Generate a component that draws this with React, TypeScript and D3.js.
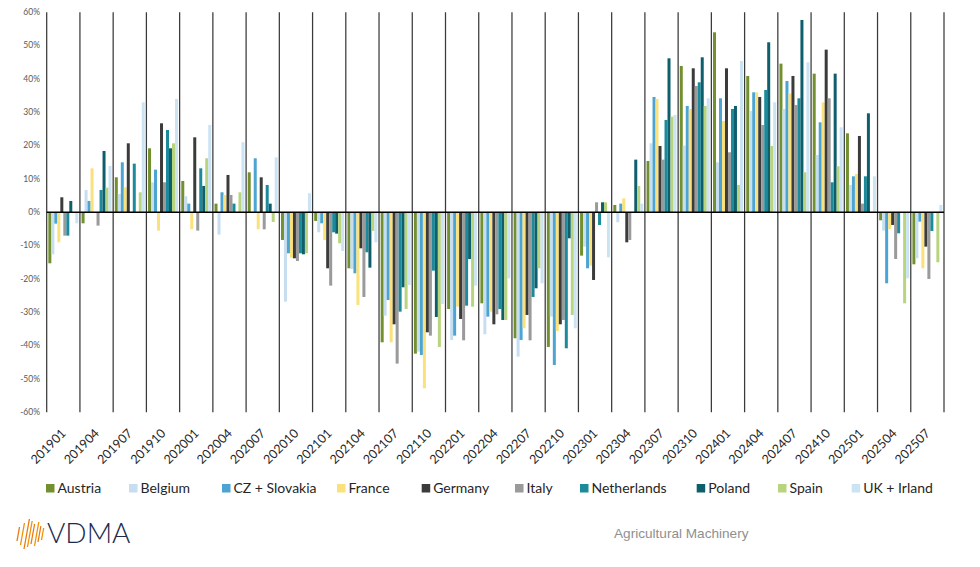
import React from 'react';
import * as d3 from 'd3';

const categories = ['201901','201904','201907','201910','202001','202004','202007','202010','202101','202104','202107','202110','202201','202204','202207','202210','202301','202304','202307','202310','202401','202404','202407','202410','202501','202504','202507'];

const austria = [-15.3,-3.3,10.5,19.2,9.4,2.6,12,-8.3,-2.6,-16.8,-39,-42.4,-29,-27.3,-37.8,-40.4,-13,2.2,15.4,43.9,54,40.9,44.6,41.6,23.7,-2.4,-15.6];
const belgium = [-12.6,6.7,5.5,9,4.8,-6.7,0,-26.8,-6,-17,-31,-41.8,-38.3,-36.6,-43.3,-31.3,-10.3,-3,20.7,20,15,30.4,31,17.2,8.2,-5.5,-13.8];
const czSlovakia = [-3.4,3.4,15,12.8,2.6,6,16.2,-12.3,-3.3,-18.3,-26.3,-42.8,-37,-31.3,-38.3,-45.8,-16.8,2.6,34.6,31.9,34.2,36,39.4,27,10.8,-21.3,-2.8];
const france = [-9,13.2,7.5,-5.5,-5.1,5.2,-5.1,-13.6,-8.3,-27.8,-39,-52.8,-28.3,-29.8,-34.8,-35.6,-16,4.2,34,31,27.4,36,35.7,33,11.5,-5,-16.8];
const germany = [4.5,0,20.7,26.7,22.5,11.2,10.5,-13.8,-16.8,-10.8,-33.6,-36,-32,-33.6,-30.8,-33.6,-20.3,-9,19.9,43.2,43.2,34.6,40.9,48.8,22.9,-3.8,-10.3];
const italy = [-7,-4,0,9,-5.5,5.2,-5.1,-14.6,-22,-25.4,-45.4,-37,-38.4,-30.6,-38.4,-32.3,3,-8.3,15.8,37.9,18,26.2,32.2,34.2,2.6,-14,-20];
const netherlands = [-7,6.7,14.6,24.7,13.2,2.6,8.2,-12.3,-6,-12,-29.8,-17.5,-28,-29,-25.4,-40.8,-3.8,0,27.7,39,31,36.7,34.2,9,10.8,-6.3,-5.6];
const poland = [3.4,18.4,0,19.2,7.9,0,2.6,-12.6,-6.4,-16.6,-22.5,-31.4,-14,-32.3,-22.8,-7.8,3,15.8,46.2,46.5,31.9,51,57.7,41.6,29.7,0,0];
const spain = [0,7.4,6,20.7,16.2,6,-2.9,-12.3,-9.3,-5.6,-29,-40.4,-28.3,-32.3,-16.8,-30.8,3,7.9,28.7,31.9,8.2,19.9,12,13.8,0,-27.3,-15];
const ukIrland = [-3.3,13.9,33,34,26.2,21,16.5,5.7,-11.6,-9,-21.8,-27.5,-22,-19.8,-21.3,-34.8,-13.5,2.6,29.2,34.2,45.4,33,45,25.5,10.8,-19.8,2.2];

const seriesNames = ['Austria','Belgium','CZ + Slovakia','France','Germany','Italy','Netherlands','Poland','Spain','UK + Irland'];
const seriesColors = ['#72902F','#C6DEF0','#4BA4D1','#FBE17C','#3B3B3B','#9A9A9A','#1C8A9B','#0E5E6C','#B9D47E','#CBE3F3'];
const yTicks = [60,50,40,30,20,10,0,-10,-20,-30,-40,-50,-60];

const FONT = "Lato, 'Open Sans', sans-serif";

export default function App() {
  const W = 980, H = 567;
  const left = 46.7, right = 944, top = 12.3, bottom = 412.3;
  const seriesValues = [austria, belgium, czSlovakia, france, germany, italy, netherlands, poland, spain, ukIrland];

  const x0 = d3.scaleBand<string>().domain(categories).range([left, right]).padding(0);
  const x1 = d3.scaleBand<string>().domain(seriesNames).range([0, x0.bandwidth()]).paddingInner(0).paddingOuter(0.55);
  const y = d3.scaleLinear().domain([-60, 60]).range([bottom, top]);
  const fmt = (v: number) => `${v}%`;

  const legendSwatchX = [46, 129, 222, 337, 421.7, 515, 580, 696.7, 778, 851.7];
  const logoStripes = [
    { dx: 0, h: 14 }, { dx: 3.5, h: 22 }, { dx: 7, h: 30 }, { dx: 10.5, h: 26 },
    { dx: 14, h: 20 }, { dx: 17.5, h: 24 }, { dx: 21, h: 16 }, { dx: 24.5, h: 12 },
  ];

  return (
    <svg width={W} height={H} style={{ position: 'absolute', left: 0, top: 0, background: '#fff' }}>
      <rect x={0} y={0} width={W} height={H} fill="#fff" />
      {seriesValues.map((vals, si) => (
        <g key={seriesNames[si]} fill={seriesColors[si]}>
          {vals.map((v, ci) => {
            const cat = categories[ci];
            const x = (x0(cat) as number) + (x1(seriesNames[si]) as number);
            const y1 = y(Math.max(0, v));
            const h = Math.abs(y(v) - y(0));
            return <rect key={cat} x={x} y={y1} width={x1.bandwidth()} height={h} />;
          })}
        </g>
      ))}
      {[...categories.map((c) => x0(c) as number), right].map((xx, i) => (
        <line key={i} x1={xx} x2={xx} y1={top} y2={bottom} stroke="#3a3a3a" strokeWidth={1.25} />
      ))}
      <line x1={left} x2={right} y1={y(0)} y2={y(0)} stroke="#000" strokeWidth={1.4} />
      {yTicks.map((t) => (
        <text key={t} x={40} y={y(t)} dy="0.33em" textAnchor="end" fontFamily={FONT} fontSize={8.5} fill="#595959">
          {fmt(t)}
        </text>
      ))}
      {categories.map((c) => {
        const cx = (x0(c) as number) + x0.bandwidth() / 2 + 3.4;
        const cy = 434;
        return (
          <text key={c} transform={`translate(${cx},${cy}) rotate(-45)`} textAnchor="end" fontFamily={FONT} fontSize={12.5} fill="#262626">
            {c}
          </text>
        );
      })}
      {seriesNames.map((n, i) => (
        <g key={n}>
          <rect x={legendSwatchX[i]} y={484} width={8.5} height={8.5} fill={seriesColors[i]} />
          <text x={legendSwatchX[i] + 11.5} y={493} fontFamily={FONT} fontSize={14} fill="#262626">{n}</text>
        </g>
      ))}
      <g>
        {logoStripes.map((s, i) => (
          <line key={i} x1={17 + s.dx} y1={534 + s.h / 2} x2={17 + s.dx + s.h * 0.18} y2={534 - s.h / 2}
            stroke={i % 2 ? '#F29100' : '#E97A12'} strokeWidth={1.3} />
        ))}
        <text x={47} y={543} fontFamily={FONT} fontWeight={300} fontSize={28} fill="#1C2A50">VDMA</text>
      </g>
      <text x={614} y={538} fontFamily="'Liberation Sans', Arial, sans-serif" fontSize={13.6} fill="#8f8f8f">Agricultural Machinery</text>
    </svg>
  );
}
